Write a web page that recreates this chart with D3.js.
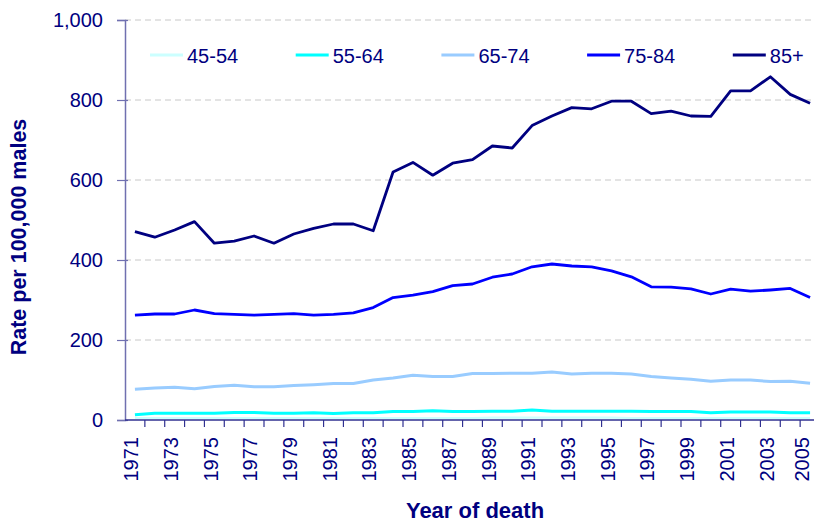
<!DOCTYPE html>
<html><head><meta charset="utf-8">
<script src="https://cdn.jsdelivr.net/npm/d3@7"></script>
<style>
body{margin:0;background:#fff;overflow:hidden}
text{font-family:"Liberation Sans",Arial,sans-serif}
</style></head><body>
<svg id="c" width="814" height="522"></svg>
<script>
const years = d3.range(1971, 2006);
const seriesNames = ["45-54","55-64","65-74","75-84","85+"];
const v45 = [5,5,5,5,5,5,5,5,5,5,5,5,5,5,5,5,5,5,6,6,6,6,6,6,6,5,5,5,5,5,5,5,5,5,5];
const v55 = [13,17,17,17,17,19,19,17,17,18,16,18,18,21,21,23,21,21,22,22,25,22,22,22,22,22,21,21,21,18,20,20,20,18,18];
const v65 = [77,80,82,78,84,87,83,83,86,88,91,91,100,105,112,109,109,116,116,117,117,120,115,117,117,115,109,105,102,97,100,100,96,97,92];
const v75 = [262,265,265,275,266,264,262,264,266,262,264,268,281,306,312,321,336,340,357,365,383,390,385,383,373,358,333,332,328,315,327,322,325,329,306];
const v85 = [471,457,475,496,442,447,460,442,465,479,490,490,473,620,644,612,642,651,685,680,736,760,781,778,797,797,766,772,760,759,823,823,858,814,792];
const yTicks = [0,200,400,600,800,1000];
const xLabelYears = years.filter(y => (y - 1971) % 2 === 0);
const colors = ["#ccffff","#00ffff","#99ccff","#0000ff","#000080"];
const widths = [2.2,3,3,2.8,2.8];
const values = [v45,v55,v65,v75,v85];

const W = 814;
const svg = d3.select("#c");
const navy = "#000080";
const x = d3.scaleBand().domain(years).range([125, 820]).paddingInner(0).paddingOuter(0);
const y = d3.scaleLinear().domain([0,1000]).range([420,20]);
const cx = d => x(d) + x.bandwidth()/2;

// gridlines
svg.append("g").selectAll("line").data(yTicks.filter(t=>t>0)).join("line")
  .attr("x1",125).attr("x2",820).attr("y1",d=>y(d)).attr("y2",d=>y(d))
  .attr("stroke","#c8c8c8").attr("stroke-width",1).attr("stroke-dasharray","6,4");

// y axis
const ya = svg.append("g").attr("transform","translate(125,0)")
  .call(d3.axisLeft(y).tickValues(yTicks).tickSize(8).tickPadding(14).tickFormat(d3.format(",")));
ya.select(".domain").attr("stroke","#7070b0").attr("stroke-width",1.5);
ya.selectAll(".tick line").attr("stroke","#7070b0").attr("x2",-8).attr("x1",3).attr("stroke-width",1.2);
ya.selectAll(".tick text").attr("fill",navy).style("font-size","20px").attr("font-family",null);

// x axis
const xg = svg.append("g");
xg.append("line").attr("x1",125).attr("x2",820).attr("y1",420).attr("y2",420).attr("stroke","#303090").attr("stroke-width",1.5);
xg.selectAll("line.tk").data(years).join("line").attr("class","tk")
  .attr("x1",d=>x(d)+x.bandwidth()).attr("x2",d=>x(d)+x.bandwidth())
  .attr("y1",420).attr("y2",427).attr("stroke","#303090").attr("stroke-width",1.2);
// keep the last rotated label inside the page edge
const labX = d => Math.min(cx(d) - 4, W - 11.8);
xg.selectAll("text").data(xLabelYears).join("text")
  .attr("transform",d=>`translate(${labX(d)},437) rotate(-90)`)
  .attr("text-anchor","end").attr("dy","0.36em")
  .attr("fill",navy).style("font-size","20px").text(d=>d);

// lines
const line = d3.line().x((d,i)=>cx(years[i])).y(d=>y(d));
values.forEach((v,k)=>{
  svg.append("path").datum(v).attr("d",line).attr("fill","none")
    .attr("stroke",colors[k]).attr("stroke-width",widths[k]).attr("stroke-linejoin","round");
});

// legend
const lg = svg.append("g");
seriesNames.forEach((n,k)=>{
  const lx = 150 + k*145.7;
  lg.append("line").attr("x1",lx).attr("x2",lx+33).attr("y1",55).attr("y2",55)
    .attr("stroke",colors[k]).attr("stroke-width",3);
  lg.append("text").attr("x",lx+37).attr("y",56).attr("dy","0.35em")
    .attr("fill",navy).style("font-size","20px").text(n);
});

// titles
svg.append("text").attr("x",475).attr("y",518).attr("text-anchor","middle")
  .attr("fill",navy).style("font-size","22px").style("font-weight","bold").text("Year of death");
svg.append("text").attr("transform","translate(26,237) rotate(-90)").attr("text-anchor","middle")
  .attr("fill",navy).style("font-size","21.5px").style("font-weight","bold").text("Rate per 100,000 males");
</script>
</body></html>
